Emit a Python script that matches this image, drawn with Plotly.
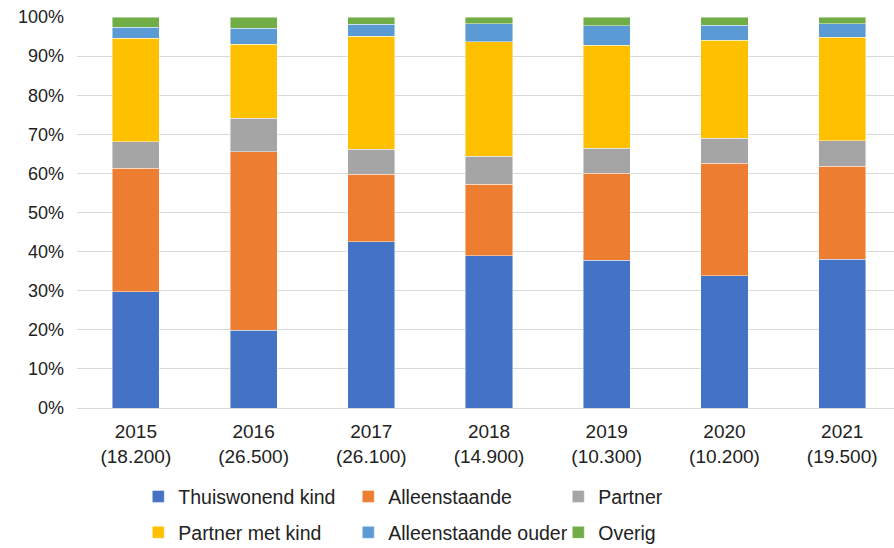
import plotly.graph_objects as go

years = ["2015", "2016", "2017", "2018", "2019", "2020", "2021"]
totals = ["18.200", "26.500", "26.100", "14.900", "10.300", "10.200", "19.500"]

thuiswonend_kind = [29.7, 19.9, 42.5, 39.0, 37.8, 33.8, 38.1]
alleenstaande = [31.6, 45.7, 17.3, 18.2, 22.3, 28.8, 23.7]
partner = [6.8, 8.5, 6.4, 7.2, 6.3, 6.4, 6.5]
partner_met_kind = [26.5, 18.9, 28.9, 29.3, 26.4, 25.0, 26.5]
alleenstaande_ouder = [2.8, 4.1, 3.0, 4.6, 5.0, 3.9, 3.5]
overig = [2.6, 2.9, 1.9, 1.7, 2.2, 2.1, 1.7]

series = [
    ("Thuiswonend kind", thuiswonend_kind, "#4472C4", "legend"),
    ("Alleenstaande", alleenstaande, "#ED7D31", "legend"),
    ("Partner", partner, "#A5A5A5", "legend"),
    ("Partner met kind", partner_met_kind, "#FFC000", "legend2"),
    ("Alleenstaande ouder", alleenstaande_ouder, "#5B9BD5", "legend2"),
    ("Overig", overig, "#70AD47", "legend2"),
]

labels = [f"{y}<br>({t})" for y, t in zip(years, totals)]
xs = list(range(len(years)))

fig = go.Figure()
for name, vals, col, leg in series:
    fig.add_trace(go.Bar(
        x=xs, y=vals, name=name, width=0.4, legend=leg,
        marker=dict(color=col, line=dict(color="rgba(255,255,255,0.6)", width=0.75)),
    ))

font_family = "Liberation Sans, Arial, sans-serif"
txt = "#222222"

leg_common = dict(
    orientation="h",
    x=0.075, xanchor="left",
    yanchor="top",
    font=dict(size=19.5, color=txt, family=font_family),
    entrywidth=165, entrywidthmode="pixels",
    traceorder="normal",
    bgcolor="rgba(0,0,0,0)",
)

fig.update_layout(
    width=894, height=548,
    barmode="stack",
    paper_bgcolor="white", plot_bgcolor="white",
    margin=dict(l=77, r=0, t=17, b=140, autoexpand=False),
    font=dict(family=font_family, color=txt, size=18),
    showlegend=True,
    legend=dict(leg_common, y=-0.177),
    legend2=dict(leg_common, y=-0.269),
    xaxis=dict(
        range=[-0.5, 6.44], automargin=False,
        tickmode="array", tickvals=xs, ticktext=labels,
        showgrid=False, zeroline=False,
        showline=True, linecolor="#d9d9d9", linewidth=1,
        ticks="", tickfont=dict(size=19, color=txt),
        ticklabelstandoff=6,
    ),
    yaxis=dict(
        range=[0, 100], dtick=10, ticksuffix="%", automargin=False,
        showgrid=True, gridcolor="#d9d9d9", gridwidth=1,
        zeroline=False, showline=False,
        ticks="", tickfont=dict(size=18, color=txt),
        ticklabelstandoff=12,
    ),
)

fig.write_html(
    "out.html",
    config={"displayModeBar": False},
    post_script="document.body.style.margin='0px';",
)
